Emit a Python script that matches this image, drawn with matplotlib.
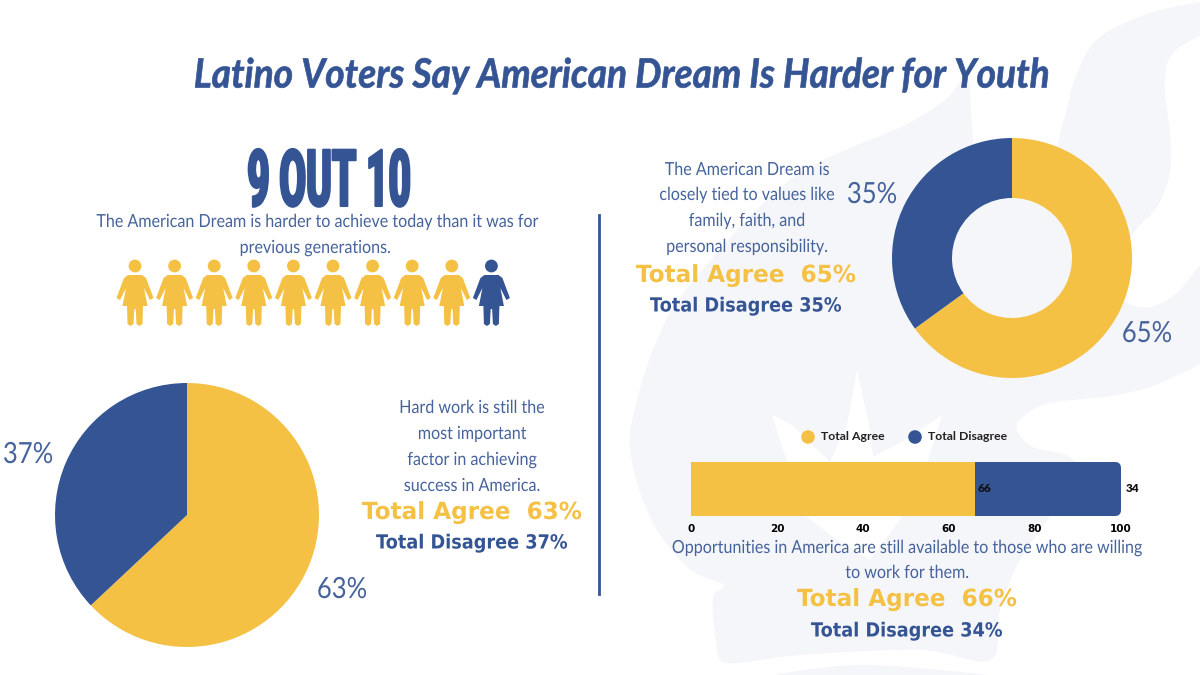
import matplotlib
matplotlib.use('Agg')
import matplotlib.pyplot as plt
from matplotlib.patches import Polygon, Circle, FancyBboxPatch, PathPatch
from matplotlib.patheffects import AbstractPathEffect
from matplotlib.path import Path
from matplotlib.transforms import Affine2D

BLUE = '#345494'
SOFT_BLUE = '#46639c'
YELLOW = '#f4c145'
WASH = '#f5f6fa'

title = 'Latino Voters Say American Dream Is Harder for Youth'
people_agree = 9
people_disagree = 1

pie_labels = ['63%', '37%']
pie_values = [63, 37]
donut_labels = ['65%', '35%']
donut_values = [65, 35]
bar_agree = 66
bar_disagree = 34
bar_ticks = [0, 20, 40, 60, 80, 100]

BODY = 'Lato'
HEAVY = 'DejaVu Sans'

fig = plt.figure(figsize=(12, 6.75), dpi=100)
bg = fig.add_axes([0, 0, 1, 1])
bg.set_xlim(0, 1200)
bg.set_ylim(675, 0)
bg.axis('off')


class Squeeze(AbstractPathEffect):
    # narrows a text around its centre, none of the installed fonts are condensed
    def __init__(self, sx, cx, stroke=0):
        super().__init__()
        self.sx = sx
        self.cx = cx
        self.stroke = stroke

    def draw_path(self, renderer, gc, tpath, affine, rgbFace=None):
        squeeze = Affine2D().translate(-self.cx, 0).scale(self.sx, 1).translate(self.cx, 0)
        gc0 = renderer.new_gc()
        gc0.copy_properties(gc)
        gc0.set_linewidth(self.stroke)
        if self.stroke:
            gc0.set_foreground(rgbFace)
        renderer.draw_path(gc0, tpath, affine + squeeze, rgbFace)
        gc0.restore()


def blob(pts):
    # closed smooth outline through the points (catmull-rom as beziers)
    n = len(pts)
    verts = [pts[0]]
    codes = [Path.MOVETO]
    for i in range(n):
        p0, p1, p2, p3 = pts[i - 1], pts[i], pts[(i + 1) % n], pts[(i + 2) % n]
        verts.append((p1[0] + (p2[0] - p0[0]) / 6, p1[1] + (p2[1] - p0[1]) / 6))
        verts.append((p2[0] - (p3[0] - p1[0]) / 6, p2[1] - (p3[1] - p1[1]) / 6))
        verts.append(p2)
        codes += [Path.CURVE4] * 3
    return Path(verts, codes)


# faint watermark behind everything
wash_outline = [(1200, 2), (1150, 13), (1100, 37), (1077, 73), (1063, 123), (1050, 160), (1010, 185), (978, 165),
                (972, 125), (967, 78), (945, 100), (905, 125), (790, 180), (690, 285), (657, 340), (637, 400),
                (630, 450), (650, 517), (687, 567), (723, 585), (713, 597), (716, 640), (727, 663), (800, 655),
                (920, 650), (990, 660), (1000, 610), (1020, 560), (1060, 500), (1073, 460), (1033, 447), (1017, 430),
                (1023, 417), (1050, 403), (1117, 395), (1167, 380), (1215, 345), (1215, 255), (1177, 293), (1150, 307),
                (1125, 302), (1100, 280), (1133, 233), (1157, 207), (1170, 173), (1170, 133), (1165, 87), (1173, 53),
                (1215, 25), (1215, 0)]
bg.add_patch(PathPatch(blob(wash_outline), fc=WASH, ec='none'))
bg.add_patch(Polygon([(772, 415), (792, 425), (830, 462), (847, 425), (857, 370), (868, 420), (873, 457), (905, 440),
                      (942, 415), (925, 470), (900, 520), (870, 560), (833, 537), (807, 517), (787, 462)],
                     closed=True, fc='white', ec='none'))
bg.add_patch(PathPatch(blob([(770, 680), (853, 665), (960, 672), (1000, 680)]), fc=WASH, ec='none'))


def put(x, y, s, color, size, family, weight='normal', style='normal', sx=1.0, stroke=0):
    t = bg.text(x, y, s, color=color, fontsize=size, family=family, weight=weight, style=style,
                ha='center', va='center')
    t.set_path_effects([Squeeze(sx, x, stroke)])
    return t


put(622, 76, title, BLUE, 29, 'Lato', weight='bold', style='italic', sx=0.92, stroke=0.5)
put(329, 184, '9 OUT 10', BLUE, 57, 'Roboto', weight='black', sx=0.49, stroke=1.5)


def body(x, y, s):
    put(x, y, s, SOFT_BLUE, 13, BODY, sx=0.89)


def agree(x, y, s):
    put(x, y, s, YELLOW, 17, HEAVY, weight='bold', sx=0.98)


def disagree(x, y, s):
    put(x, y, s, BLUE, 14, HEAVY, weight='bold', sx=0.91)


body(317, 222, 'The American Dream is harder to achieve today than it was for')
body(315, 248, 'previous generations.')
for y, s in zip([170, 195, 221, 247], ['The American Dream is', 'closely tied to values like',
                                       'family, faith, and', 'personal responsibility.']):
    body(747, y, s)
agree(746, 275, 'Total Agree  65%')
disagree(746, 306, 'Total Disagree 35%')
for y, s in zip([408, 434, 460, 486], ['Hard work is still the', 'most important',
                                       'factor in achieving', 'success in America.']):
    body(472, y, s)
agree(472, 512, 'Total Agree  63%')
disagree(472, 543, 'Total Disagree 37%')
body(907, 548, 'Opportunities in America are still available to those who are willing')
body(907, 573, 'to work for them.')
agree(907, 599, 'Total Agree  66%')
disagree(907, 631, 'Total Disagree 34%')

bg.plot([599, 599], [215, 594], color=BLUE, lw=2)


def person(cx, color):
    bg.add_patch(Circle((cx, 266), 6.4, fc=color, ec='none'))
    shape = [(-7, 275), (7, 275), (11, 278), (18.5, 298), (15, 300), (9, 288), (12.5, 306), (8, 306),
             (7.5, 324), (4.5, 326), (1.5, 324), (0.7, 309), (-0.7, 309), (-1.5, 324), (-4.5, 326), (-7.5, 324),
             (-8, 306), (-12.5, 306), (-9, 288), (-15, 300), (-18.5, 298), (-11, 278)]
    bg.add_patch(Polygon([(cx + a, b) for a, b in shape], closed=True, fc=color, ec='none'))


colors = [YELLOW] * people_agree + [BLUE] * people_disagree
for i, c in enumerate(colors):
    person(135 + i * 39.6, c)


def round_ax(cx, cy, r):
    ax = fig.add_axes([(cx - r) / 1200, 1 - (cy + r) / 675, 2 * r / 1200, 2 * r / 675])
    ax.patch.set_alpha(0)
    return ax


def percent(x, y, s):
    put(x, y, s, SOFT_BLUE, 21, BODY, sx=0.88)


ax = round_ax(187, 515, 132)
ax.pie(pie_values, colors=[YELLOW, BLUE], startangle=90, counterclock=False, radius=1)
ax.set_xlim(-1, 1)
ax.set_ylim(-1, 1)
percent(342, 590, pie_labels[0])
percent(28, 455, pie_labels[1])

ax = round_ax(1012, 258, 120)
ax.pie(donut_values, colors=[YELLOW, BLUE], startangle=90, counterclock=False, radius=1,
       wedgeprops=dict(width=0.5))
ax.set_xlim(-1, 1)
ax.set_ylim(-1, 1)
percent(1147, 334, donut_labels[0])
percent(872, 195, donut_labels[1])

# stacked bar
ax = fig.add_axes([691 / 1200, 1 - 516 / 675, 430 / 1200, 54 / 675])
ax.patch.set_alpha(0)
ax.barh([0], [bar_agree], height=1, color=YELLOW)
blue_bar = ax.barh([0], [bar_disagree], left=[bar_agree], height=1, color=BLUE)[0]
ax.set_xlim(0, 100)
ax.set_ylim(-0.5, 0.5)
ax.set_yticks([])
ax.set_xticks(bar_ticks)
ax.tick_params(axis='x', length=0, pad=6)
for t in ax.get_xticklabels():
    t.set_family('DejaVu Sans')
    t.set_weight('bold')
    t.set_fontsize(7.5)
for s in ax.spines.values():
    s.set_visible(False)
clip = FancyBboxPatch((0, 462), 1121, 54, boxstyle='round,pad=0,rounding_size=6', transform=bg.transData)
blue_bar.set_clip_path(clip)
ax.text(bar_agree + 0.7, 0, str(bar_agree), fontsize=8.5, weight='heavy', family='Lato', color='#111111', va='center')
ax.text(101, 0, str(bar_disagree), fontsize=8.5, weight='heavy', family='Lato', color='#111111', va='center',
        clip_on=False)

bg.add_patch(Circle((808, 437), 6.8, fc=YELLOW, ec='none'))
bg.add_patch(Circle((915, 437), 6.8, fc=BLUE, ec='none'))
bg.text(821, 437, 'Total Agree', fontsize=8.8, weight='bold', family='Lato', color='#222222', va='center')
bg.text(928, 437, 'Total Disagree', fontsize=8.8, weight='bold', family='Lato', color='#222222', va='center')

fig.savefig('out.png', dpi=100)
